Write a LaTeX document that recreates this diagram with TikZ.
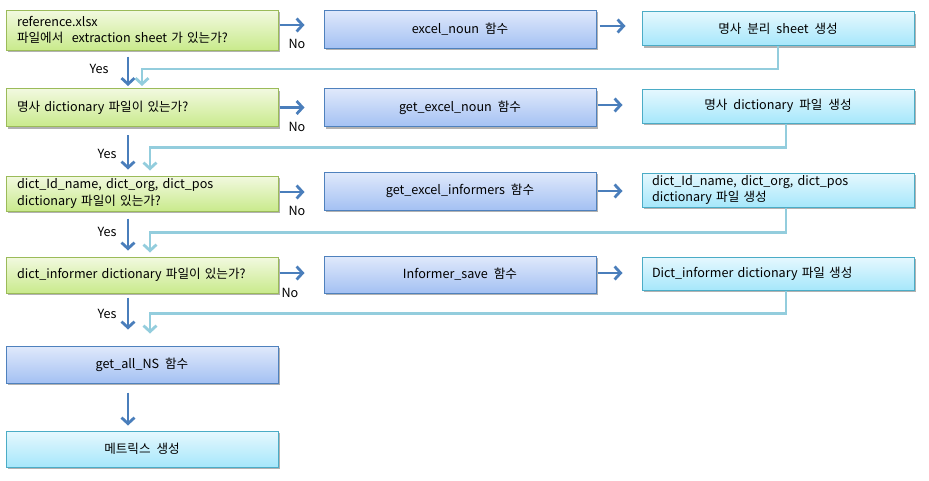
\documentclass[tikz,border=0pt]{standalone}
\usepackage{fontspec}
\setmainfont[WordSpace=2.1]{Noto Sans CJK KR}
\usetikzlibrary{arrows.meta,shadows}

\definecolor{askline}{HTML}{9BBB59}
\definecolor{asktop}{HTML}{F2F9E0}
\definecolor{askbot}{HTML}{C9EA8C}
\definecolor{funcline}{HTML}{4F81BD}
\definecolor{functop}{HTML}{E0E9FB}
\definecolor{funcbot}{HTML}{A4C1F3}
\definecolor{makeline}{HTML}{4BACC6}
\definecolor{maketop}{HTML}{E6F8FE}
\definecolor{makebot}{HTML}{A6E7FB}
\definecolor{flowblue}{HTML}{4A7EBB}
\definecolor{backblue}{HTML}{93CDDD}

\tikzset{
  box/.style={draw, line width=1pt, minimum width=272pt, inner sep=0pt,
    font=\fontsize{12.6}{16.5}\selectfont,
    drop shadow={shadow xshift=1.5pt, shadow yshift=-2pt, opacity=0.3, fill=black}},
  ask/.style={box, draw=askline, top color=asktop, bottom color=askbot,
    text width=250pt, align=left},
  func/.style={box, draw=funcline, top color=functop, bottom color=funcbot, align=center},
  make/.style={box, draw=makeline, top color=maketop, bottom color=makebot, align=center},
  makeleft/.style={make, text width=252pt, align=left},
  flow/.style={draw=flowblue, line width=2.8pt,
    -{Straight Barb[length=6pt, width=13pt, line width=2.8pt]}},
  back/.style={draw=backblue, line width=2.8pt,
    -{Straight Barb[length=6pt, width=13pt, line width=2.8pt]}},
  tag/.style={font=\fontsize{12.6}{14}\selectfont, inner sep=0pt}
}

\begin{document}
\begin{tikzpicture}[x=1pt, y=-1pt]
  \useasboundingbox (0,0) rectangle (929,480);

  % left column: questions
  \node[ask, minimum height=40pt] (A1) at (142,30) {reference.xlsx\\파일에서\ \ extraction\ sheet\ 가\ 있는가?};
  \node[ask, minimum height=38pt] (A2) at (142,107.5) {명사\ dictionary\ 파일이\ 있는가?};
  \node[ask, minimum height=35pt] (A3) at (142,193.5) {dict\_Id\_name,\ dict\_org,\ dict\_pos\\dictionary\ 파일이\ 있는가?};
  \node[ask, minimum height=36pt] (A4) at (142,275) {dict\_informer\ dictionary\ 파일이\ 있는가?};
  \node[func, minimum height=37pt] (A5) at (142,364.5) {get\_all\_NS\ 함수};
  \node[make, minimum height=36pt] (A6) at (142,449) {메트릭스\ 생성};

  % middle column: functions
  \node[func, minimum height=38pt] (B1) at (460,29) {excel\_noun\ 함수};
  \node[func, minimum height=38pt] (B2) at (460,107.5) {get\_excel\_noun\ 함수};
  \node[func, minimum height=38pt] (B3) at (460,191) {get\_excel\_informers\ 함수};
  \node[func, minimum height=37pt] (B4) at (460,274.5) {Informer\_save\ 함수};

  % right column: results
  \node[make, minimum height=34pt] (C1) at (778,28.5) {명사\ 분리\ sheet\ 생성};
  \node[make, minimum height=34pt] (C2) at (778,106) {명사\ dictionary\ 파일\ 생성};
  \node[makeleft, minimum height=34pt] (C3) at (778,190) {dict\_Id\_name,\ dict\_org,\ dict\_pos\\dictionary\ 파일\ 생성};
  \node[makeleft, minimum height=33pt] (C4) at (778,273.5) {Dict\_informer\ dictionary\ 파일\ 생성};

  % No branches
  \draw[flow, shorten <=1pt, shorten >=19pt] ([yshift=5pt]A1.east) -- ([yshift=5pt]A1.east -| B1.west);
  \draw[flow, shorten <=1pt, shorten >=19pt] (A2.east) -- (A2.east -| B2.west);
  \draw[flow, shorten <=1pt, shorten >=19pt] ([yshift=1.5pt]A3.east) -- ([yshift=1.5pt]A3.east -| B3.west);
  \draw[flow, shorten <=1pt, shorten >=19pt] ([yshift=2pt]A4.east) -- ([yshift=2pt]A4.east -| B4.west);
  \node[tag] (no1) at (297,44) {No};
  \node[tag] (no2) at (297,127) {No};
  \node[tag] (no3) at (297,211) {No};
  \node[tag] (no4) at (290,293) {No};

  \draw[flow, shorten <=3pt, shorten >=16pt] ([yshift=3pt]B1.east) -- ([yshift=3pt]B1.east -| C1.west);
  \draw[flow, shorten <=1pt, shorten >=19pt] ([yshift=2.5pt]B2.east) -- ([yshift=2.5pt]B2.east -| C2.west);
  \draw[flow, shorten <=1pt, shorten >=19pt] (B3.east) -- (B3.east -| C3.west);
  \draw[flow, shorten <=1pt, shorten >=19pt] ([yshift=1.5pt]B4.east) -- ([yshift=1.5pt]B4.east -| C4.west);

  % Yes branches
  \draw[flow, shorten <=6pt, shorten >=2pt] ([xshift=-14pt]A1.south) -- ([xshift=-14pt]A2.north);
  \draw[flow, shorten <=8pt, shorten >=6pt] ([xshift=-14pt]A2.south) -- ([xshift=-14pt]A3.north);
  \draw[flow, shorten <=7pt, shorten >=6pt] ([xshift=-14pt]A3.south) -- ([xshift=-14pt]A4.north);
  \draw[flow, shorten <=4pt, shorten >=16pt] ([xshift=-14pt]A4.south) -- ([xshift=-14pt]A5.north);
  \draw[flow, shorten <=9pt, shorten >=5pt] ([xshift=-14pt]A5.south) -- ([xshift=-14pt]A6.north);
  \node[tag] (yes1) at (99,69) {Yes};
  \node[tag] (yes2) at (107,154) {Yes};
  \node[tag] (yes3) at (107,232) {Yes};
  \node[tag] (yes4) at (107,314) {Yes};

  % back to the next question
  \draw[back, shorten >=2pt] (C1.south) -- ++(0,23) -| (A2.north);
  \draw[back, shorten >=5pt] ([xshift=8pt]C2.south) -- ++(0,24) -| ([xshift=8pt]A3.north);
  \draw[back, shorten >=4pt] ([xshift=8pt]C3.south) -- ++(0,25) -| ([xshift=8pt]A4.north);
  \draw[back, shorten >=12pt] ([xshift=8pt]C4.south) -- ++(0,23) -| ([xshift=8pt]A5.north);
\end{tikzpicture}
\end{document}
